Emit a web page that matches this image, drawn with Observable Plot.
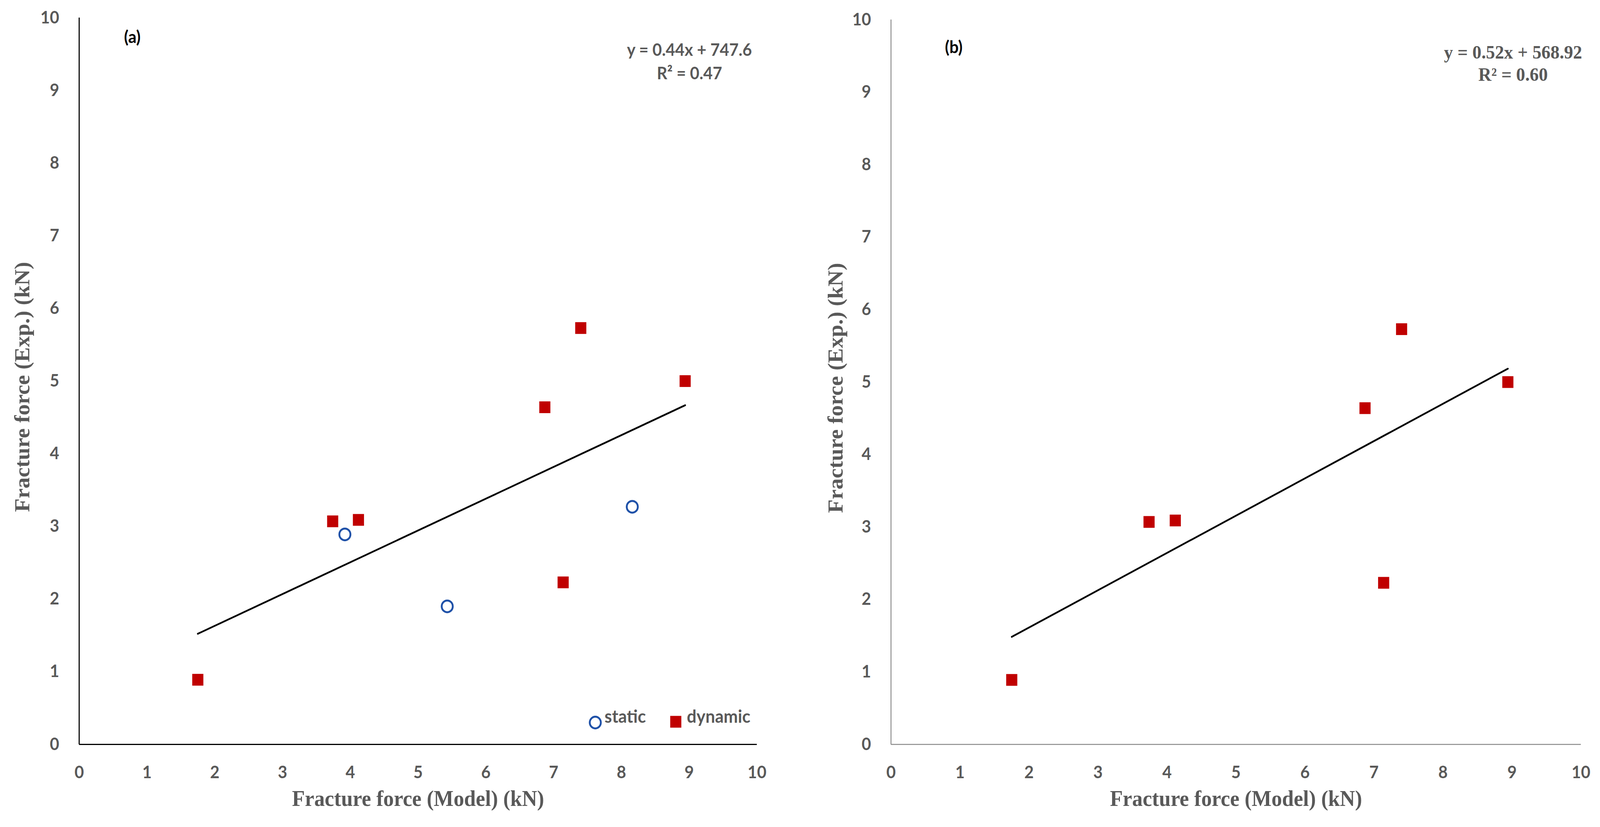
<!DOCTYPE html>
<html>
<head>
<meta charset="utf-8">
<script src="https://cdn.jsdelivr.net/npm/d3@7"></script>
<script src="https://cdn.jsdelivr.net/npm/@observablehq/plot@0.6"></script>
<style>
html, body { margin: 0; padding: 0; background: #fff; overflow: hidden; }
#wrap { position: absolute; left: 0; top: 0; width: 4334px; height: 2118px; display: flex; flex-direction: row; transform-origin: 0 0; }
#wrap svg { display: block; max-width: none; flex: none; }
</style>
</head>
<body>
<div id="wrap"></div>
<script>
// ---- data ----
const seriesNames = ["static", "dynamic"];
const staticModel = [3.92, 5.43, 8.16];
const staticExp   = [2.89, 1.90, 3.27];
const dynamicModel = [1.75, 3.74, 4.12, 6.87, 7.40, 7.14, 8.94];
const dynamicExp   = [0.89, 3.07, 3.09, 4.64, 5.73, 2.23, 5.00];
const xTicks = [0, 1, 2, 3, 4, 5, 6, 7, 8, 9, 10];
const yTicks = [0, 1, 2, 3, 4, 5, 6, 7, 8, 9, 10];
const panelLabels = ["(a)", "(b)"];
const eqA = ["y = 0.44x + 747.6", "R² = 0.47"];
const eqB = ["y = 0.52x + 568.92", "R² = 0.60"];
const xTitle = "Fracture force (Model) (kN)";
const yTitle = "Fracture force (Exp.) (kN)";

// ---- tables built from the arrays ----
const staticPts = staticModel.map((x, i) => ({x, y: staticExp[i], s: seriesNames[0]}));
const dynamicPts = dynamicModel.map((x, i) => ({x, y: dynamicExp[i], s: seriesNames[1]}));
const allPts = staticPts.concat(dynamicPts);

const RED = "#C00000";
const BLUE = "#1F51A8";
const GREY = "#595959";
const SANS = "Lato";
const SERIF = "Liberation Serif";
const fmt = d => String(d);

function panel(cfg) {
  const marks = [
    Plot.axisX(xTicks, {tickSize: 0, tickPadding: 55, tickFormat: fmt, fontSize: 44, fontWeight: "bold", fill: GREY, fontFamily: SANS, label: null}),
    Plot.axisY(yTicks, {tickSize: 0, tickPadding: 54, tickFormat: fmt, fontSize: 44, fontWeight: "bold", fill: GREY, fontFamily: SANS, label: null}),
    Plot.ruleY([0], {stroke: cfg.axisColor, strokeWidth: cfg.axisWidth}),
    Plot.ruleX([0], {stroke: cfg.axisColor, strokeWidth: cfg.axisWidth}),
    Plot.linearRegressionY(cfg.regData, {x: "x", y: "y", ci: 0, stroke: "black", strokeWidth: 4.5})
  ];
  if (cfg.showStatic) {
    marks.push(Plot.dot(staticPts, {x: "x", y: "y", r: 15, stroke: BLUE, strokeWidth: 5, fill: "none"}));
  }
  marks.push(Plot.dot(dynamicPts, {x: "x", y: "y", symbol: "square", r: 17, fill: RED, stroke: "none"}));
  marks.push(Plot.text([cfg.tag], {frameAnchor: "top-left", textAnchor: "middle", dx: cfg.tagDx, dy: cfg.tagDy, fontFamily: SANS, fontWeight: "bold", fontSize: 44, fill: "black"}));
  marks.push(Plot.text([cfg.eq[0]], {frameAnchor: "top-right", textAnchor: "middle", dx: cfg.eqDx, dy: cfg.eqDy1, fontFamily: cfg.eqFont, fontWeight: "bold", fontSize: cfg.eqSize, fill: GREY}));
  marks.push(Plot.text([cfg.eq[1]], {frameAnchor: "top-right", textAnchor: "middle", dx: cfg.eqDx, dy: cfg.eqDy2, fontFamily: cfg.eqFont, fontWeight: "bold", fontSize: cfg.eqSize, fill: GREY}));
  marks.push(Plot.text([xTitle], {frameAnchor: "bottom", textAnchor: "middle", dy: 157, fontFamily: SERIF, fontWeight: "bold", fontSize: 57, fill: GREY}));
  marks.push(Plot.text([yTitle], {frameAnchor: "left", textAnchor: "middle", dx: cfg.yTitleDx, dy: 15, rotate: -90, fontFamily: SERIF, fontWeight: "bold", fontSize: 57, fill: GREY}));
  if (cfg.legend) {
    marks.push(Plot.dot([seriesNames[0]], {frameAnchor: "bottom-right", dx: -438, dy: -56, r: 15, stroke: BLUE, strokeWidth: 5, fill: "none"}));
    marks.push(Plot.text([seriesNames[0]], {frameAnchor: "bottom-right", dx: -413, dy: -56, textAnchor: "start", fontFamily: SANS, fontWeight: "bold", fontSize: 46, fill: GREY}));
    marks.push(Plot.dot([seriesNames[1]], {frameAnchor: "bottom-right", dx: -220, dy: -58, symbol: "square", r: 17, fill: RED, stroke: "none"}));
    marks.push(Plot.text([seriesNames[1]], {frameAnchor: "bottom-right", dx: -190, dy: -56, textAnchor: "start", fontFamily: SANS, fontWeight: "bold", fontSize: 46, fill: GREY}));
  }
  return Plot.plot({
    width: cfg.width,
    height: 2118,
    marginLeft: cfg.marginLeft,
    marginRight: cfg.marginRight,
    marginTop: cfg.marginTop,
    marginBottom: 212,
    x: {domain: [0, 10]},
    y: {domain: [0, 10]},
    style: {fontFamily: SANS, background: "white", maxWidth: "none"},
    marks
  });
}

const wrap = document.getElementById("wrap");
wrap.appendChild(panel({
  width: 2180, marginLeft: 214, marginRight: 130, marginTop: 45,
  axisColor: "black", axisWidth: 3,
  regData: allPts, showStatic: true, legend: true,
  tag: panelLabels[0], tagDx: 144, tagDy: 33,
  eq: eqA, eqFont: SANS, eqSize: 44, eqDx: -183, eqDy1: 66, eqDy2: 126,
  yTitleDx: -153
}));
wrap.appendChild(panel({
  width: 2154, marginLeft: 233, marginRight: 52, marginTop: 50,
  axisColor: "#8a8a8a", axisWidth: 2.5,
  regData: dynamicPts, showStatic: false, legend: false,
  tag: panelLabels[1], tagDx: 170, tagDy: 54,
  eq: eqB, eqFont: SERIF, eqSize: 49, eqDx: -184, eqDy1: 65, eqDy2: 122,
  yTitleDx: -149
}));

// fill the actual viewport (it may be narrower than 4334 px)
function fit() {
  const sx = window.innerWidth / 4334;
  const sy = window.innerHeight / 2118;
  wrap.style.transform = "scale(" + sx + "," + sy + ")";
}
fit();
window.addEventListener("resize", fit);
</script>
</body>
</html>
